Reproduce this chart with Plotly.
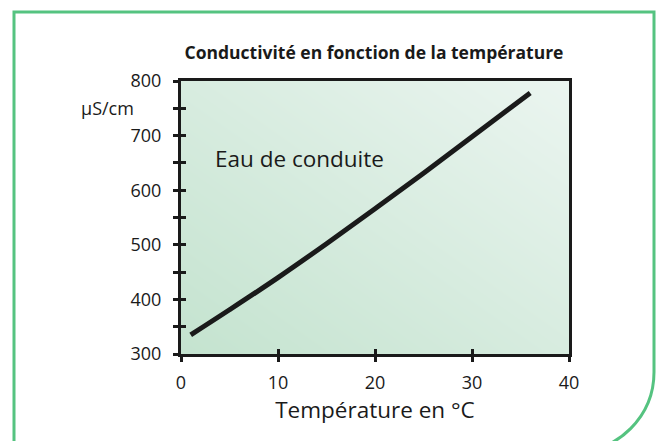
import plotly.graph_objects as go

# temperature (°C) and conductivity (µS/cm)
temperature = [1, 5, 10, 15, 20, 25, 30, 36]
conductivity = [335, 381, 440, 502, 566, 631, 698, 778]

x_range = [0, 40]
y_range = [300, 800]
x_ticks = [0, 10, 20, 30, 40]
y_ticks = [300, 400, 500, 600, 700, 800]

W, H = 657, 441
M = dict(l=181, r=88, t=81, b=87)
FONT = "Open Sans"
INK = "#1a1a1a"
GREEN = "#55c380"


def px(x):
    return (x - M["l"]) / (W - M["l"] - M["r"])


def py(y):
    return (H - M["b"] - y) / (H - M["t"] - M["b"])


fig = go.Figure()

# soft diagonal background inside the plot frame
fig.add_trace(go.Heatmap(
    x=x_range, y=y_range, z=[[0, 0.5], [0.5, 1]],
    colorscale=[[0, "#c4e3cf"], [1, "#ebf5f0"]],
    showscale=False, zsmooth="best", hoverinfo="skip",
))

fig.add_trace(go.Scatter(
    x=temperature, y=conductivity, mode="lines",
    line=dict(color=INK, width=5, shape="spline"), xaxis="x2", yaxis="y2",
    showlegend=False,
))

axis_common = dict(showgrid=False, zeroline=False, tickcolor=INK,
                   tickwidth=2.5, ticklen=5)
fig.update_layout(
    width=W, height=H, margin=M,
    paper_bgcolor="white", plot_bgcolor="white",
    font=dict(family=FONT, color=INK),
    title=dict(text="<b>Conductivité en fonction de la température</b>",
               x=px(374), xref="paper", xanchor="center",
               y=1 - 53 / H, yanchor="middle",
               font=dict(size=17.5, family=FONT, color=INK)),
    xaxis=dict(range=x_range, tickvals=x_ticks, ticks="outside",
               showline=True, linecolor=INK, linewidth=3, mirror=True,
               tickfont=dict(size=18), ticklabelstandoff=5,
               title=dict(text="Température en °C", font=dict(size=22.5),
                          standoff=2),
               **axis_common),
    yaxis=dict(range=y_range, tickvals=y_ticks, ticks="outside",
               showline=True, linecolor=INK, linewidth=3, mirror=True,
               tickfont=dict(size=18), ticklabelstandoff=8,
               minor=dict(dtick=50, ticks="outside", ticklen=5,
                          tickcolor=INK, tickwidth=2.5),
               **axis_common),
    xaxis2=dict(range=x_range, tickvals=x_ticks, ticks="inside",
                overlaying="x", showticklabels=False, **axis_common),
    yaxis2=dict(range=y_range, tickvals=y_ticks, ticks="inside",
                overlaying="y", showticklabels=False,
                minor=dict(dtick=50, ticks="inside", ticklen=5,
                           tickcolor=INK, tickwidth=2.5),
                **axis_common),
)

fig.add_annotation(text="µS/cm", xref="paper", yref="paper",
                   x=px(107), y=py(108), xanchor="center", yanchor="middle",
                   showarrow=False, font=dict(size=18, color=INK))
fig.add_annotation(text="Eau de conduite", xref="paper", yref="paper",
                   x=px(213), y=py(158), xanchor="left", yanchor="middle",
                   showarrow=False, font=dict(size=22.5, color=INK))

# green frame with a rounded lower-right corner
k = 80 * 0.5523
pts = [(14, 450), (14, 12), (654, 12), (654, 372)]
path = "M {},{} ".format(px(pts[0][0]), py(pts[0][1]))
path += " ".join("L {},{}".format(px(a), py(b)) for a, b in pts[1:])
path += " C {},{} {},{} {},{}".format(px(654), py(372 + k), px(574 + k),
                                      py(452), px(574), py(452))
fig.add_shape(type="path", path=path, xref="paper", yref="paper",
              line=dict(color=GREEN, width=3), layer="above")

# drop the page's default body margin so the figure sits at the top-left
fig.write_html("out.html", config={"displayModeBar": False},
               post_script="document.body.style.margin='0';")
